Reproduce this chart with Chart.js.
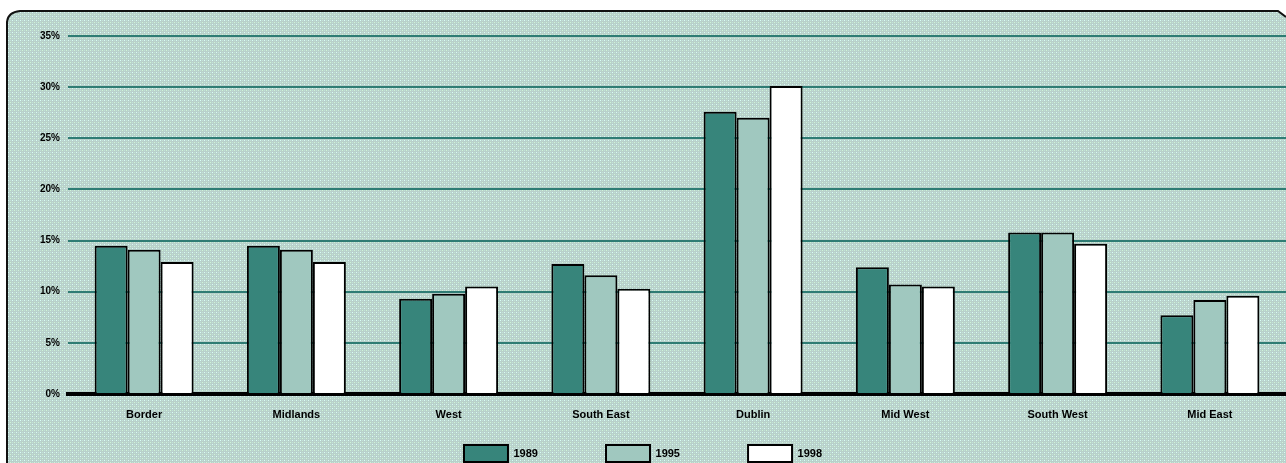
<!DOCTYPE html>
<html>
<head>
<meta charset="utf-8">
<title>Regional share</title>
<script src="https://cdn.jsdelivr.net/npm/chart.js@4.4.1/dist/chart.umd.min.js"></script>
<style>
  html, body { margin: 0; padding: 0; background: #fff; }
  #wrap { width: 1286px; height: 463px; }
</style>
</head>
<body>
<div id="wrap"><canvas id="myChartBar" width="1286" height="463"></canvas></div>
<script>
// data
var regions = ['Border', 'Midlands', 'West', 'South East', 'Dublin', 'Mid West', 'South West', 'Mid East'];
var years = ['1989', '1995', '1998'];
var share1989 = [14.5, 14.5, 9.3, 12.7, 27.6, 12.4, 15.8, 7.7];
var share1995 = [14.1, 14.1, 9.8, 11.6, 27.0, 10.7, 15.8, 9.2];
var share1998 = [12.9, 12.9, 10.5, 10.3, 30.1, 10.5, 14.7, 9.6];
var yTicks = [0, 5, 10, 15, 20, 25, 30, 35];

var barColors = ['#37857b', '#a0c8bf', '#ffffff'];

// dotted grey/cyan background like the old gif
function makeDots() {
    var c = document.createElement('canvas');
    c.width = 4; c.height = 4;
    var g = c.getContext('2d');
    g.fillStyle = '#b8d0ca';
    g.fillRect(0, 0, 4, 4);
    g.fillStyle = '#d8fdf6';
    g.fillRect(0, 0, 1, 1);
    g.fillStyle = '#cff5d6';
    g.fillRect(2, 2, 1, 1);
    g.fillStyle = '#c2e0d9';
    g.fillRect(2, 0, 1, 1);
    g.fillRect(0, 2, 1, 1);
    return c;
}

var panelBg = {
    id: 'panelBg',
    beforeDraw: function(chart) {
        var ctx = chart.ctx;
        var w = chart.width, h = chart.height;
        ctx.save();
        ctx.fillStyle = '#ffffff';
        ctx.fillRect(0, 0, w, h);
        ctx.beginPath();
        ctx.moveTo(7, h);
        ctx.lineTo(7, 22);
        ctx.quadraticCurveTo(8, 12, 20, 11);
        ctx.lineTo(w - 8, 11);
        ctx.lineTo(w, 17);
        ctx.lineTo(w, h);
        ctx.closePath();
        ctx.fillStyle = ctx.createPattern(makeDots(), 'repeat');
        ctx.fill();
        ctx.beginPath();
        ctx.moveTo(7, h);
        ctx.lineTo(7, 22);
        ctx.quadraticCurveTo(8, 12, 20, 11);
        ctx.lineTo(w - 8, 11);
        ctx.lineTo(w, 17);
        ctx.strokeStyle = '#111';
        ctx.lineWidth = 2;
        ctx.stroke();
        ctx.restore();
    }
};

// trailing blanks spread the legend items apart like the original
function padLabel(txt) {
    return txt + '                   ';
}

var ctxBar = document.getElementById('myChartBar');
var myChartBar = new Chart(ctxBar, {
    type: 'bar',
    data: {
        labels: regions,
        datasets: [
            { label: years[0], data: share1989, backgroundColor: barColors[0] },
            { label: years[1], data: share1995, backgroundColor: barColors[1] },
            { label: years[2], data: share1998, backgroundColor: barColors[2] }
        ]
    },
    plugins: [panelBg],
    options: {
        responsive: false,
        animation: false,
        layout: { padding: { top: 36, left: 0, right: 0, bottom: -9 } },
        datasets: {
            bar: {
                borderColor: '#000',
                borderWidth: 2,
                borderSkipped: 'bottom',
                categoryPercentage: 0.65,
                barPercentage: 1.0
            }
        },
        plugins: {
            tooltip: { enabled: false },
            legend: {
                position: 'bottom',
                labels: {
                    boxWidth: 44,
                    boxHeight: 17,
                    padding: 10,
                    color: '#000',
                    font: { family: 'Arial, "Liberation Sans"', size: 11, weight: 'bold' },
                    generateLabels: function(chart) {
                        return chart.data.datasets.map(function(ds, i) {
                            return {
                                text: i < 2 ? padLabel(ds.label) : ds.label,
                                fillStyle: ds.backgroundColor,
                                strokeStyle: '#000',
                                lineWidth: 2,
                                datasetIndex: i
                            };
                        });
                    }
                }
            }
        },
        scales: {
            x: {
                grid: { display: false },
                border: { display: true, color: '#000', width: 4 },
                ticks: {
                    color: '#000',
                    padding: 6,
                    font: { family: 'Arial, "Liberation Sans"', size: 11, weight: 'bold' }
                },
                afterFit: function(scale) { scale.height = 41; }
            },
            y: {
                min: 0,
                max: 35,
                afterBuildTicks: function(scale) {
                    scale.ticks = yTicks.map(function(v) { return { value: v }; });
                },
                grid: { color: '#2f7c74', lineWidth: 2, drawTicks: false },
                border: { display: false },
                ticks: {
                    color: '#000',
                    padding: 8,
                    font: { family: 'Arial, "Liberation Sans"', size: 10, weight: 'bold' },
                    callback: function(v) { return v + '%'; }
                },
                afterFit: function(scale) { scale.width = 68; }
            }
        }
    }
});
</script>
</body>
</html>
